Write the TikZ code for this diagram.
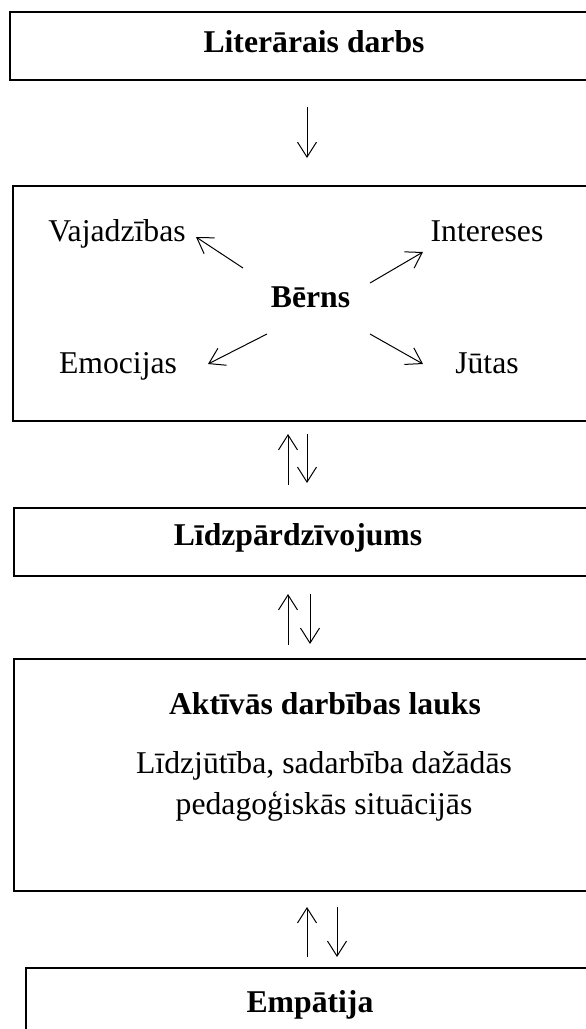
\documentclass[tikz,border=0pt]{standalone}
\usepackage{fontspec}
\setmainfont{Liberation Serif}
\usetikzlibrary{arrows.meta}
\begin{document}
\begin{tikzpicture}[x=1pt,y=-1pt,
  box/.style={draw, line width=2pt, rectangle, inner sep=0pt, anchor=north west},
  arr/.style={line width=1pt, -{Straight Barb[length=15pt,width=19pt]}},
  lbl/.style={font=\fontsize{31.7}{38}\selectfont, inner sep=0pt, anchor=base},
  ttl/.style={font=\fontsize{31.7}{38}\selectfont\bfseries, inner sep=0pt, anchor=base}]
\clip (0,0) rectangle (586,1029);
\fill[white] (0,0) rectangle (586,1029);
% boxes
\node[box, minimum width=591pt, minimum height=68pt]  (b1) at (9,11) {};
\node[box, minimum width=588pt, minimum height=235pt] (b2) at (12,185) {};
\node[box, minimum width=587pt, minimum height=68pt]  (b3) at (13,507) {};
\node[box, minimum width=587pt, minimum height=232pt] (b4) at (13,658) {};
\node[box, minimum width=575pt, minimum height=80pt]  (b5) at (25,967) {};
% texts
\node[ttl] (t1) at (314,52) {Literārais darbs};
\node[ttl] (bern) at (310.5,307) {Bērns};
\node[lbl] (vaj) at (117,241) {Vajadzības};
\node[lbl] (int) at (487,241) {Intereses};
\node[lbl] (emo) at (118,373) {Emocijas};
\node[lbl] (jut) at (487,373) {Jūtas};
\node[ttl] (t3) at (298,545) {Līdzpārdzīvojums};
\node[ttl] (t4) at (325,714) {Aktīvās darbības lauks};
\node[lbl] (d1) at (324,773) {Līdzjūtība, sadarbība dažādās};
\node[lbl] (d2) at (324,814) {pedagoģiskās situācijās};
\node[ttl] (t5) at (310,1012) {Empātija};
% x positions of vertical arrows
\coordinate (xa) at (307,0);
\coordinate (xb) at (288,0);
\coordinate (xc) at (307,0);
\coordinate (xd) at (288,0);
\coordinate (xe) at (310,0);
\coordinate (xf) at (307,0);
\coordinate (xg) at (337,0);
% vertical arrows
\draw[arr, shorten <=26pt, shorten >=27pt] (b1.south -| xa) -- (b2.north -| xa);
\draw[arr, shorten <=22pt, shorten >=12pt] (b3.north -| xb) -- (b2.south -| xb);
\draw[arr, shorten <=12pt, shorten >=24pt] (b2.south -| xc) -- (b3.north -| xc);
\draw[arr, shorten <=13pt, shorten >=17pt] (b4.north -| xd) -- (b3.south -| xd);
\draw[arr, shorten <=17pt, shorten >=14pt] (b3.south -| xe) -- (b4.north -| xe);
\draw[arr, shorten <=10pt, shorten >=15pt] (b5.north -| xf) -- (b4.south -| xf);
\draw[arr, shorten <=15pt, shorten >=10pt] (b4.south -| xg) -- (b5.north -| xg);
% arrows from Bērns
\coordinate (cv) at (243,268); \coordinate (hv) at (196,237);
\coordinate (ci) at (370,283); \coordinate (hi) at (423,252);
\coordinate (ce) at (267,334); \coordinate (he) at (208,364);
\coordinate (cj) at (370,334); \coordinate (hj) at (423,364);
\draw[arr] (cv) -- (hv);
\draw[arr] (ci) -- (hi);
\draw[arr] (ce) -- (he);
\draw[arr] (cj) -- (hj);
\end{tikzpicture}
\end{document}
